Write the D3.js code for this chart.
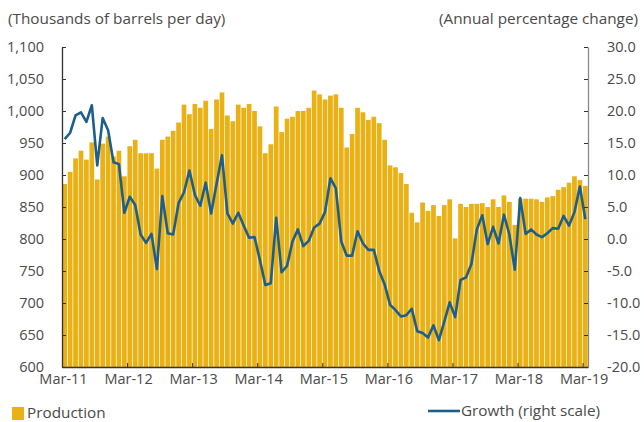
<!DOCTYPE html>
<html>
<head>
<meta charset="utf-8">
<script src="https://cdn.jsdelivr.net/npm/d3@7"></script>
<style>
  html, body { margin: 0; padding: 0; background: #fff; }
  svg { display: block; }
  text { font-family: "Open Sans", "Noto Sans", sans-serif; fill: #4a4a4a; }
</style>
</head>
<body>
<svg id="chart" width="644" height="422"></svg>
<script>
// Monthly production, Mar-2011 .. Mar-2019 (thousands of barrels per day)
const production = [
  886, 905, 926, 938, 924, 951, 893, 949, 960, 929, 938, 898,
  945, 955, 934, 934, 934, 910, 955, 960, 969, 982, 1010, 995,
  1011, 1005, 1016, 972, 1018, 1029, 993, 984, 1010, 1005, 1011, 1000,
  976, 934, 948, 1007, 967, 988, 991, 1000, 1000, 1005, 1032, 1026,
  1018, 1024, 1026, 1005, 943, 964, 1005, 998, 986, 991, 981, 955,
  915, 912, 903, 886, 841, 826, 857, 844, 853, 836, 853, 862,
  801, 855, 850, 855, 855, 856, 850, 862, 850, 868, 858, 822,
  863, 863, 863, 862, 858, 865, 867, 877, 881, 888, 898, 892,
  883
];

// Annual percentage change (right scale)
const growth = [
  15.6, 16.6, 19.3, 19.8, 18.3, 20.9, 11.5, 18.9, 17.0, 12.0, 11.7, 4.1,
  6.6, 5.3, 0.7, -0.6, 0.8, -4.7, 6.7, 0.9, 0.7, 5.6, 7.3, 10.7,
  6.9, 5.2, 8.8, 4.0, 8.6, 13.1, 4.0, 2.4, 4.1, 2.1, 0.2, 0.3,
  -3.3, -7.2, -6.9, 3.3, -5.2, -4.2, -0.4, 1.5, -1.1, -0.3, 1.8, 2.4,
  4.2, 9.5, 7.9, -0.4, -2.6, -2.6, 1.2, -0.7, -1.7, -1.7, -5.0, -7.1,
  -10.3, -11.1, -12.1, -11.9, -10.9, -14.4, -14.7, -15.4, -13.5, -15.8, -12.9, -9.9,
  -12.2, -6.4, -6.0, -3.9, 1.5, 3.7, -0.8, 1.9, -0.7, 3.8, 0.7, -4.8,
  6.4, 0.8, 1.5, 0.7, 0.3, 0.9, 1.7, 1.6, 3.6, 2.1, 4.2, 8.2,
  3.1
];

const months = d3.timeMonth.range(new Date(2011, 2, 1), new Date(2019, 3, 1));
const yearTicks = ["Mar-11", "Mar-12", "Mar-13", "Mar-14", "Mar-15", "Mar-16", "Mar-17", "Mar-18", "Mar-19"];
const leftTicks = [600, 650, 700, 750, 800, 850, 900, 950, 1000, 1050, 1100];
const rightTicks = [-20, -15, -10, -5, 0, 5, 10, 15, 20, 25, 30];

const fmt = d3.timeFormat("%b-%y");
const categories = months.map(fmt);

const svg = d3.select("#chart");
const plotL = 62, plotR = 588, plotT = 47, plotB = 367;

const x = d3.scaleBand()
  .domain(categories)
  .range([plotL, plotR])
  .paddingInner(0.13)
  .paddingOuter(0.065);

const xIdx = d3.scaleLinear().domain([0, categories.length]).range([plotL, plotR]);

const yL = d3.scaleLinear().domain([600, 1100]).range([plotB, plotT]);
const yR = d3.scaleLinear().domain([-20, 30]).range([plotB, plotT]);

const gold = "#E9B114";
const blue = "#1C5E8C";

// bars
svg.append("g").selectAll("rect")
  .data(production)
  .join("rect")
  .attr("x", (d, i) => x(categories[i]))
  .attr("width", x.bandwidth())
  .attr("y", d => yL(d))
  .attr("height", d => yL(600) - yL(d))
  .attr("fill", gold);

// growth line
const line = d3.line()
  .x((d, i) => x(categories[i]) + x.bandwidth() / 2)
  .y(d => yR(d));

svg.append("path")
  .datum(growth)
  .attr("d", line)
  .attr("fill", "none")
  .attr("stroke", blue)
  .attr("stroke-width", 2.6)
  .attr("stroke-linejoin", "round");

const locale = d3.formatLocale({ decimal: ".", thousands: ",", grouping: [3], currency: ["$", ""], minus: "-" });

const tickFont = "14.5px";

// left axis
const axL = svg.append("g")
  .attr("transform", `translate(${plotL},0)`)
  .call(d3.axisLeft(yL).tickValues(leftTicks).tickFormat(locale.format(",")).tickSize(-4).tickSizeOuter(0).tickPadding(18));
axL.select(".domain").attr("stroke", "#333").attr("stroke-width", 1.3);
axL.selectAll(".tick line").attr("stroke", "#333");
axL.selectAll("text").style("font-size", tickFont).attr("fill", "#4a4a4a");

// right axis
const axR = svg.append("g")
  .attr("transform", `translate(${plotR},0)`)
  .call(d3.axisRight(yR).tickValues(rightTicks).tickFormat(locale.format(".1f")).tickSize(-4).tickSizeOuter(0).tickPadding(19));
axR.select(".domain").attr("stroke", "#8a8a8a").attr("stroke-width", 1.3);
axR.selectAll(".tick line").attr("stroke", "#333");
axR.selectAll("text").style("font-size", tickFont).attr("fill", "#4a4a4a");

// bottom axis: ticks at March of each year
const tickIdx = yearTicks.map(t => categories.indexOf(t));
const axB = svg.append("g")
  .attr("transform", `translate(0,${plotB})`)
  .call(d3.axisBottom(xIdx).tickValues(tickIdx).tickFormat(i => categories[i]).tickSize(-4).tickSizeOuter(0).tickPadding(7));
axB.select(".domain").attr("stroke", "#333").attr("stroke-width", 1.3);
axB.selectAll(".tick line").attr("stroke", "#333");
axB.selectAll("text").style("font-size", tickFont).attr("fill", "#4a4a4a").attr("dx", 1);

// axis titles
svg.append("text").attr("x", 8).attr("y", 24).style("font-size", "15.3px").text("(Thousands of barrels per day)");
svg.append("text").attr("x", 638).attr("y", 24).attr("text-anchor", "end").style("font-size", "15.3px").text("(Annual percentage change)");

// legend
svg.append("rect").attr("x", 12).attr("y", 407).attr("width", 12).attr("height", 13).attr("fill", gold);
svg.append("text").attr("x", 27).attr("y", 418).style("font-size", "15.3px").text("Production");
svg.append("line").attr("x1", 428).attr("x2", 460).attr("y1", 411).attr("y2", 411).attr("stroke", blue).attr("stroke-width", 2.6);
svg.append("text").attr("x", 461).attr("y", 416).style("font-size", "15.3px").text("Growth (right scale)");
</script>
</body>
</html>
